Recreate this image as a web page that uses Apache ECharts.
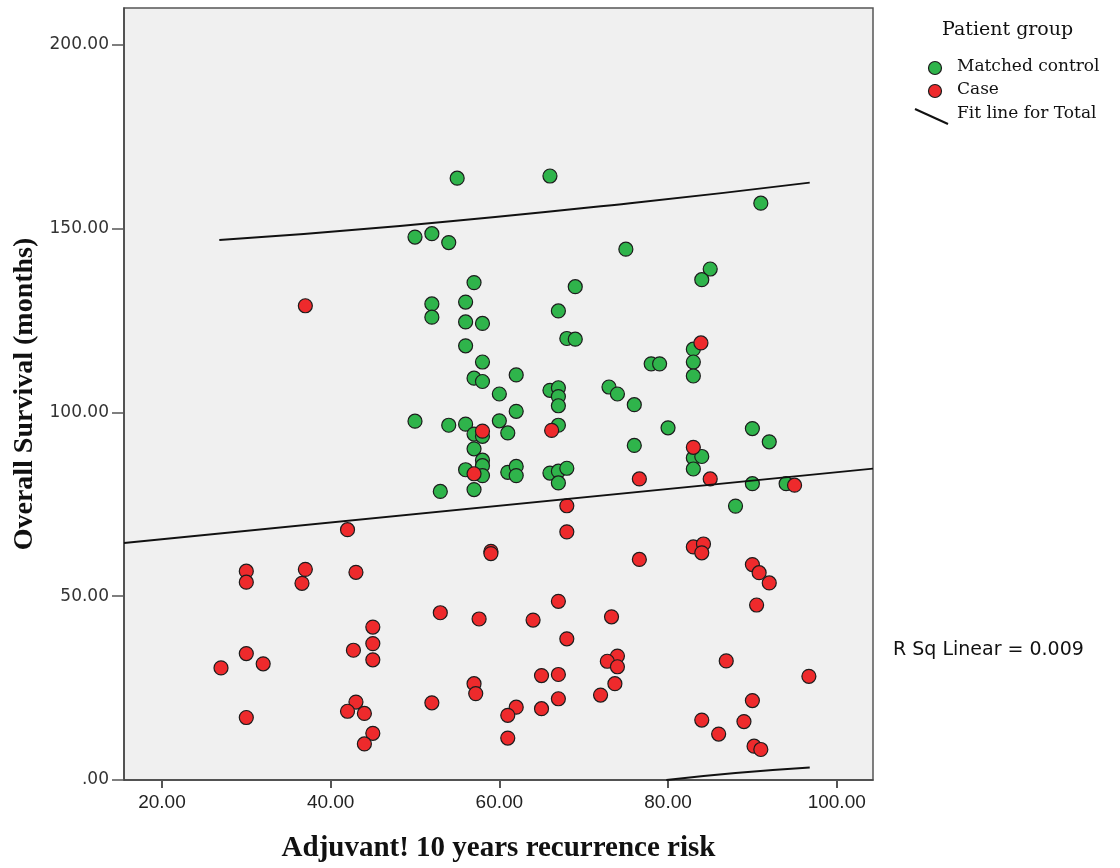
<!DOCTYPE html>
<html>
<head>
<meta charset="utf-8">
<script src="https://cdn.jsdelivr.net/npm/echarts@6/dist/echarts.min.js"></script>
<style>
  html, body { margin: 0; padding: 0; background: #ffffff; }
  #chart { width: 1120px; height: 868px; }
</style>
</head>
<body>
<div id="chart"></div>
<script>
// Matched control patients: Adjuvant! 10-year recurrence risk vs overall survival (months)
const controlRisk = [55, 66, 50, 52, 54, 75, 57, 69, 52, 52, 56, 56, 58, 67, 68, 69, 56, 58, 57, 58,
  62, 60, 66, 67, 67, 73, 74, 76, 67, 62, 50, 54, 56, 60, 57, 58, 61, 67, 76, 57,
  58, 58, 56, 58, 61, 62, 62, 66, 67, 68, 67, 53, 57, 85, 84, 83, 83, 83, 78, 79,
  91, 80, 90, 92, 83, 84, 83, 90, 94, 88];
const controlSurvival = [163.7, 164.3, 147.7, 148.6, 146.2, 144.4, 135.3, 134.2, 129.5, 125.9, 130.0, 124.6, 124.2, 127.6, 120.1, 119.9, 118.1, 113.7, 109.3, 108.4,
  110.2, 105.0, 106.0, 106.7, 104.3, 106.9, 105.0, 102.1, 101.8, 100.3, 97.6, 96.5, 96.8, 97.7, 94.1, 93.5, 94.4, 96.5, 91.0, 90.1,
  87.0, 85.5, 84.4, 82.8, 83.7, 85.3, 82.8, 83.5, 84.0, 84.8, 80.8, 78.5, 79.0, 139.0, 136.1, 117.2, 113.7, 109.9, 113.2, 113.2,
  156.9, 95.8, 95.6, 92.0, 87.6, 88.0, 84.6, 80.6, 80.6, 74.5];

// Case patients
const caseRisk = [37, 42, 30, 30, 37, 36.6, 43, 58, 66.2, 57, 76.6, 68, 68, 59, 59, 76.6, 67, 53, 83.9, 83,
  85, 95, 83, 84.2, 84, 90, 90.8, 92, 90.5, 27, 30, 32, 30, 45, 45, 45, 42.7, 43, 42, 44,
  45, 44, 57.6, 64, 73.3, 68, 74, 72.8, 74, 73.7, 72, 65, 67, 67, 65, 57, 57.2, 52, 62, 61,
  61, 86.9, 96.7, 90, 84, 89, 86, 90.2, 91];
const caseSurvival = [129.0, 68.1, 56.8, 53.8, 57.3, 53.5, 56.5, 94.9, 95.1, 83.3, 81.9, 74.6, 67.5, 62.2, 61.6, 60.0, 48.6, 45.5, 118.9, 90.5,
  81.9, 80.2, 63.4, 64.2, 61.8, 58.6, 56.4, 53.6, 47.6, 30.5, 34.4, 31.6, 17.0, 41.6, 37.1, 32.7, 35.3, 21.2, 18.7, 18.1,
  12.7, 9.8, 43.8, 43.5, 44.4, 38.4, 33.7, 32.3, 30.8, 26.2, 23.1, 28.4, 28.7, 22.1, 19.4, 26.2, 23.5, 21.0, 19.8, 17.6,
  11.4, 32.4, 28.2, 21.6, 16.3, 15.9, 12.5, 9.2, 8.3];

// Linear fit for the total sample and its individual prediction bounds
const fitRisk = [15.5, 104.3];
const fitSurvival = [64.5, 84.7];
const upperRisk = [26.8, 48.2, 75.5, 96.8];
const upperSurvival = [146.9, 150.7, 156.9, 162.5];
const lowerRisk = [79.8, 88.0, 96.8];
const lowerSurvival = [0.0, 1.9, 3.4];

// Axis ticks
const riskTicks = [20, 40, 60, 80, 100];
const survivalTicks = [0, 50, 100, 150, 200];

const zip = (xs, ys) => xs.map((x, i) => [x, ys[i]]);
const fmt = v => (v === 0 ? '.00' : v.toFixed(2));

const GREEN = '#2fb44b';
const RED = '#ee2a2c';
const EDGE = '#1c1c1c';

const chart = echarts.init(document.getElementById('chart'), null, { renderer: 'canvas' });

chart.setOption({
  animation: false,
  backgroundColor: '#ffffff',
  grid: {
    left: 124, top: 8, right: 247, bottom: 88,
    show: true, backgroundColor: '#f0f0f0', borderColor: '#555555', borderWidth: 1.5
  },
  xAxis: {
    type: 'value', min: 15.5, max: 104.3,
    splitLine: { show: false },
    axisLine: { show: true, onZero: false, lineStyle: { color: '#444444', width: 1.5 } },
    axisTick: { show: true, customValues: riskTicks, length: 8, lineStyle: { color: '#555555', width: 2 } },
    axisLabel: {
      customValues: riskTicks, formatter: fmt, margin: 13,
      fontFamily: 'Liberation Sans', fontSize: 19, color: '#222222'
    },
    name: 'Adjuvant! 10 years recurrence risk',
    nameLocation: 'middle', nameGap: 54,
    nameTextStyle: { fontFamily: 'Liberation Serif', fontWeight: 'bold', fontSize: 29, color: '#111111' }
  },
  yAxis: {
    type: 'value', min: 0, max: 210,
    splitLine: { show: false },
    axisLine: { show: true, onZero: false, lineStyle: { color: '#444444', width: 1.5 } },
    axisTick: { show: true, customValues: survivalTicks, length: 12, lineStyle: { color: '#555555', width: 1.5 } },
    axisLabel: {
      customValues: survivalTicks, formatter: fmt, margin: 15,
      fontFamily: 'DejaVu Sans', fontSize: 17, color: '#333333'
    },
    name: 'Overall Survival (months)',
    nameLocation: 'middle', nameGap: 85, nameRotate: 90,
    nameTextStyle: { fontFamily: 'Liberation Serif', fontWeight: 'bold', fontSize: 28, color: '#111111' }
  },
  series: [
    {
      name: 'Matched control', type: 'scatter', data: zip(controlRisk, controlSurvival),
      symbol: 'circle', symbolSize: 14, z: 3,
      itemStyle: { color: GREEN, borderColor: EDGE, borderWidth: 1.2, opacity: 1 }
    },
    {
      name: 'Case', type: 'scatter', data: zip(caseRisk, caseSurvival),
      symbol: 'circle', symbolSize: 14, z: 3,
      itemStyle: { color: RED, borderColor: EDGE, borderWidth: 1.2, opacity: 1 }
    },
    {
      name: 'Fit line for Total', type: 'line', data: zip(fitRisk, fitSurvival),
      showSymbol: false, symbol: 'none', z: 4,
      lineStyle: { color: '#111111', width: 2 }
    },
    {
      type: 'line', data: zip(upperRisk, upperSurvival), smooth: true,
      showSymbol: false, symbol: 'none', z: 4,
      lineStyle: { color: '#111111', width: 2 }
    },
    {
      type: 'line', data: zip(lowerRisk, lowerSurvival), smooth: true,
      showSymbol: false, symbol: 'none', z: 4, clip: true,
      lineStyle: { color: '#111111', width: 2 }
    }
  ],
  graphic: [
    { type: 'text', left: 942, top: 21,
      style: { text: 'Patient group', font: '19px "DejaVu Serif"', fill: '#111111' } },
    { type: 'circle', shape: { cx: 935, cy: 68, r: 6.5 },
      style: { fill: GREEN, stroke: EDGE, lineWidth: 1.2 } },
    { type: 'text', left: 957, top: 58,
      style: { text: 'Matched control', font: '17px "DejaVu Serif"', fill: '#111111' } },
    { type: 'circle', shape: { cx: 935, cy: 91, r: 6.5 },
      style: { fill: RED, stroke: EDGE, lineWidth: 1.2 } },
    { type: 'text', left: 957, top: 81,
      style: { text: 'Case', font: '17px "DejaVu Serif"', fill: '#111111' } },
    { type: 'line', shape: { x1: 915, y1: 109, x2: 948, y2: 124 },
      style: { stroke: '#111111', lineWidth: 2 } },
    { type: 'text', left: 957, top: 105,
      style: { text: 'Fit line for Total', font: '17px "DejaVu Serif"', fill: '#111111' } },
    { type: 'text', left: 893, top: 641,
      style: { text: 'R Sq Linear = 0.009', font: '19px "DejaVu Sans"', fill: '#111111' } }
  ]
});
</script>
</body>
</html>
